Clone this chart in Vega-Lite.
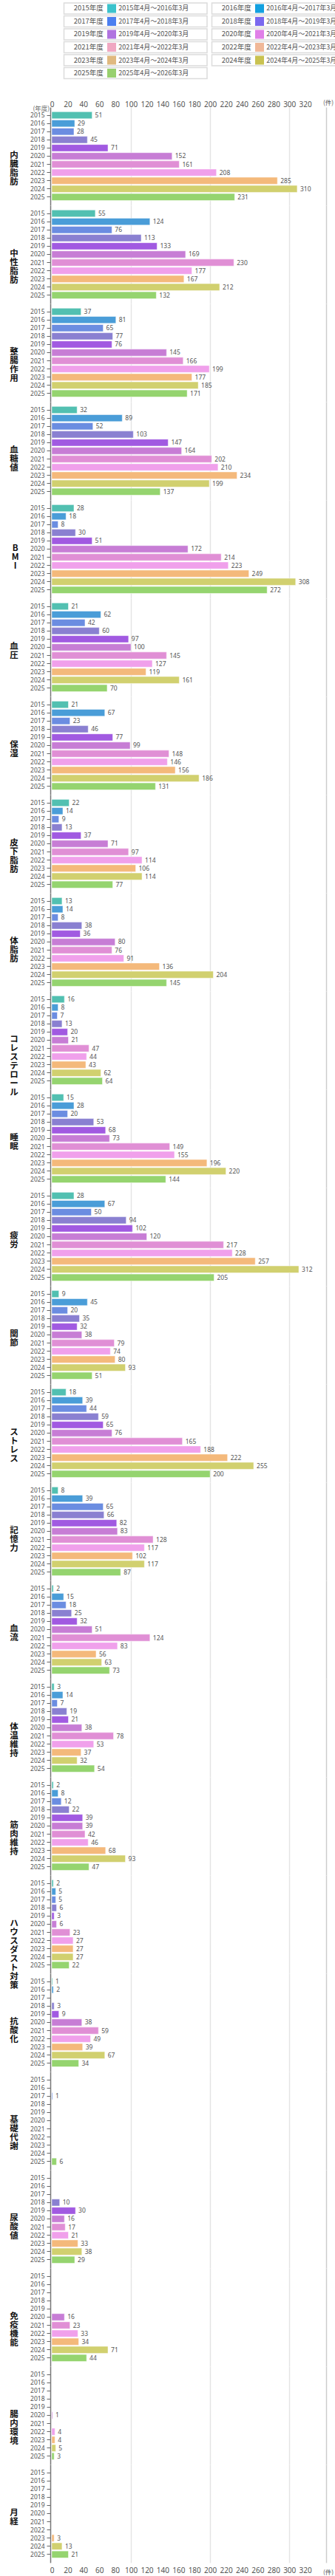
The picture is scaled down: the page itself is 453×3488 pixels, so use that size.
{
  "$schema": "https://vega.github.io/schema/vega-lite/v6.json",
  "background": "white",
  "padding": {"left": 13, "top": 3, "right": 0, "bottom": 0},
  "datasets": {
    "legend": [
      {"year": 2015, "short": "2015年度", "long": "2015年4月～2016年3月"},
      {"year": 2016, "short": "2016年度", "long": "2016年4月～2017年3月"},
      {"year": 2017, "short": "2017年度", "long": "2017年4月～2018年3月"},
      {"year": 2018, "short": "2018年度", "long": "2018年4月～2019年3月"},
      {"year": 2019, "short": "2019年度", "long": "2019年4月～2020年3月"},
      {"year": 2020, "short": "2020年度", "long": "2020年4月～2021年3月"},
      {"year": 2021, "short": "2021年度", "long": "2021年4月～2022年3月"},
      {"year": 2022, "short": "2022年度", "long": "2022年4月～2023年3月"},
      {"year": 2023, "short": "2023年度", "long": "2023年4月～2024年3月"},
      {"year": 2024, "short": "2024年度", "long": "2024年4月～2025年3月"},
      {"year": 2025, "short": "2025年度", "long": "2025年4月～2026年3月"}
    ],
    "counts": [
      {"c": "内臓脂肪", "y": 2015, "n": 51}, {"c": "内臓脂肪", "y": 2016, "n": 29}, {"c": "内臓脂肪", "y": 2017, "n": 28}, {"c": "内臓脂肪", "y": 2018, "n": 45}, {"c": "内臓脂肪", "y": 2019, "n": 71}, {"c": "内臓脂肪", "y": 2020, "n": 152}, {"c": "内臓脂肪", "y": 2021, "n": 161}, {"c": "内臓脂肪", "y": 2022, "n": 208}, {"c": "内臓脂肪", "y": 2023, "n": 285}, {"c": "内臓脂肪", "y": 2024, "n": 310}, {"c": "内臓脂肪", "y": 2025, "n": 231},
      {"c": "中性脂肪", "y": 2015, "n": 55}, {"c": "中性脂肪", "y": 2016, "n": 124}, {"c": "中性脂肪", "y": 2017, "n": 76}, {"c": "中性脂肪", "y": 2018, "n": 113}, {"c": "中性脂肪", "y": 2019, "n": 133}, {"c": "中性脂肪", "y": 2020, "n": 169}, {"c": "中性脂肪", "y": 2021, "n": 230}, {"c": "中性脂肪", "y": 2022, "n": 177}, {"c": "中性脂肪", "y": 2023, "n": 167}, {"c": "中性脂肪", "y": 2024, "n": 212}, {"c": "中性脂肪", "y": 2025, "n": 132},
      {"c": "整腸作用", "y": 2015, "n": 37}, {"c": "整腸作用", "y": 2016, "n": 81}, {"c": "整腸作用", "y": 2017, "n": 65}, {"c": "整腸作用", "y": 2018, "n": 77}, {"c": "整腸作用", "y": 2019, "n": 76}, {"c": "整腸作用", "y": 2020, "n": 145}, {"c": "整腸作用", "y": 2021, "n": 166}, {"c": "整腸作用", "y": 2022, "n": 199}, {"c": "整腸作用", "y": 2023, "n": 177}, {"c": "整腸作用", "y": 2024, "n": 185}, {"c": "整腸作用", "y": 2025, "n": 171},
      {"c": "血糖値", "y": 2015, "n": 32}, {"c": "血糖値", "y": 2016, "n": 89}, {"c": "血糖値", "y": 2017, "n": 52}, {"c": "血糖値", "y": 2018, "n": 103}, {"c": "血糖値", "y": 2019, "n": 147}, {"c": "血糖値", "y": 2020, "n": 164}, {"c": "血糖値", "y": 2021, "n": 202}, {"c": "血糖値", "y": 2022, "n": 210}, {"c": "血糖値", "y": 2023, "n": 234}, {"c": "血糖値", "y": 2024, "n": 199}, {"c": "血糖値", "y": 2025, "n": 137},
      {"c": "BMI", "y": 2015, "n": 28}, {"c": "BMI", "y": 2016, "n": 18}, {"c": "BMI", "y": 2017, "n": 8}, {"c": "BMI", "y": 2018, "n": 30}, {"c": "BMI", "y": 2019, "n": 51}, {"c": "BMI", "y": 2020, "n": 172}, {"c": "BMI", "y": 2021, "n": 214}, {"c": "BMI", "y": 2022, "n": 223}, {"c": "BMI", "y": 2023, "n": 249}, {"c": "BMI", "y": 2024, "n": 308}, {"c": "BMI", "y": 2025, "n": 272},
      {"c": "血圧", "y": 2015, "n": 21}, {"c": "血圧", "y": 2016, "n": 62}, {"c": "血圧", "y": 2017, "n": 42}, {"c": "血圧", "y": 2018, "n": 60}, {"c": "血圧", "y": 2019, "n": 97}, {"c": "血圧", "y": 2020, "n": 100}, {"c": "血圧", "y": 2021, "n": 145}, {"c": "血圧", "y": 2022, "n": 127}, {"c": "血圧", "y": 2023, "n": 119}, {"c": "血圧", "y": 2024, "n": 161}, {"c": "血圧", "y": 2025, "n": 70},
      {"c": "保湿", "y": 2015, "n": 21}, {"c": "保湿", "y": 2016, "n": 67}, {"c": "保湿", "y": 2017, "n": 23}, {"c": "保湿", "y": 2018, "n": 46}, {"c": "保湿", "y": 2019, "n": 77}, {"c": "保湿", "y": 2020, "n": 99}, {"c": "保湿", "y": 2021, "n": 148}, {"c": "保湿", "y": 2022, "n": 146}, {"c": "保湿", "y": 2023, "n": 156}, {"c": "保湿", "y": 2024, "n": 186}, {"c": "保湿", "y": 2025, "n": 131},
      {"c": "皮下脂肪", "y": 2015, "n": 22}, {"c": "皮下脂肪", "y": 2016, "n": 14}, {"c": "皮下脂肪", "y": 2017, "n": 9}, {"c": "皮下脂肪", "y": 2018, "n": 13}, {"c": "皮下脂肪", "y": 2019, "n": 37}, {"c": "皮下脂肪", "y": 2020, "n": 71}, {"c": "皮下脂肪", "y": 2021, "n": 97}, {"c": "皮下脂肪", "y": 2022, "n": 114}, {"c": "皮下脂肪", "y": 2023, "n": 106}, {"c": "皮下脂肪", "y": 2024, "n": 114}, {"c": "皮下脂肪", "y": 2025, "n": 77},
      {"c": "体脂肪", "y": 2015, "n": 13}, {"c": "体脂肪", "y": 2016, "n": 14}, {"c": "体脂肪", "y": 2017, "n": 8}, {"c": "体脂肪", "y": 2018, "n": 38}, {"c": "体脂肪", "y": 2019, "n": 36}, {"c": "体脂肪", "y": 2020, "n": 80}, {"c": "体脂肪", "y": 2021, "n": 76}, {"c": "体脂肪", "y": 2022, "n": 91}, {"c": "体脂肪", "y": 2023, "n": 136}, {"c": "体脂肪", "y": 2024, "n": 204}, {"c": "体脂肪", "y": 2025, "n": 145},
      {"c": "コレステロール", "y": 2015, "n": 16}, {"c": "コレステロール", "y": 2016, "n": 8}, {"c": "コレステロール", "y": 2017, "n": 7}, {"c": "コレステロール", "y": 2018, "n": 13}, {"c": "コレステロール", "y": 2019, "n": 20}, {"c": "コレステロール", "y": 2020, "n": 21}, {"c": "コレステロール", "y": 2021, "n": 47}, {"c": "コレステロール", "y": 2022, "n": 44}, {"c": "コレステロール", "y": 2023, "n": 43}, {"c": "コレステロール", "y": 2024, "n": 62}, {"c": "コレステロール", "y": 2025, "n": 64},
      {"c": "睡眠", "y": 2015, "n": 15}, {"c": "睡眠", "y": 2016, "n": 28}, {"c": "睡眠", "y": 2017, "n": 20}, {"c": "睡眠", "y": 2018, "n": 53}, {"c": "睡眠", "y": 2019, "n": 68}, {"c": "睡眠", "y": 2020, "n": 73}, {"c": "睡眠", "y": 2021, "n": 149}, {"c": "睡眠", "y": 2022, "n": 155}, {"c": "睡眠", "y": 2023, "n": 196}, {"c": "睡眠", "y": 2024, "n": 220}, {"c": "睡眠", "y": 2025, "n": 144},
      {"c": "疲労", "y": 2015, "n": 28}, {"c": "疲労", "y": 2016, "n": 67}, {"c": "疲労", "y": 2017, "n": 50}, {"c": "疲労", "y": 2018, "n": 94}, {"c": "疲労", "y": 2019, "n": 102}, {"c": "疲労", "y": 2020, "n": 120}, {"c": "疲労", "y": 2021, "n": 217}, {"c": "疲労", "y": 2022, "n": 228}, {"c": "疲労", "y": 2023, "n": 257}, {"c": "疲労", "y": 2024, "n": 312}, {"c": "疲労", "y": 2025, "n": 205},
      {"c": "関節", "y": 2015, "n": 9}, {"c": "関節", "y": 2016, "n": 45}, {"c": "関節", "y": 2017, "n": 20}, {"c": "関節", "y": 2018, "n": 35}, {"c": "関節", "y": 2019, "n": 32}, {"c": "関節", "y": 2020, "n": 38}, {"c": "関節", "y": 2021, "n": 79}, {"c": "関節", "y": 2022, "n": 74}, {"c": "関節", "y": 2023, "n": 80}, {"c": "関節", "y": 2024, "n": 93}, {"c": "関節", "y": 2025, "n": 51},
      {"c": "ストレス", "y": 2015, "n": 18}, {"c": "ストレス", "y": 2016, "n": 39}, {"c": "ストレス", "y": 2017, "n": 44}, {"c": "ストレス", "y": 2018, "n": 59}, {"c": "ストレス", "y": 2019, "n": 65}, {"c": "ストレス", "y": 2020, "n": 76}, {"c": "ストレス", "y": 2021, "n": 165}, {"c": "ストレス", "y": 2022, "n": 188}, {"c": "ストレス", "y": 2023, "n": 222}, {"c": "ストレス", "y": 2024, "n": 255}, {"c": "ストレス", "y": 2025, "n": 200},
      {"c": "記憶力", "y": 2015, "n": 8}, {"c": "記憶力", "y": 2016, "n": 39}, {"c": "記憶力", "y": 2017, "n": 65}, {"c": "記憶力", "y": 2018, "n": 66}, {"c": "記憶力", "y": 2019, "n": 82}, {"c": "記憶力", "y": 2020, "n": 83}, {"c": "記憶力", "y": 2021, "n": 128}, {"c": "記憶力", "y": 2022, "n": 117}, {"c": "記憶力", "y": 2023, "n": 102}, {"c": "記憶力", "y": 2024, "n": 117}, {"c": "記憶力", "y": 2025, "n": 87},
      {"c": "血流", "y": 2015, "n": 2}, {"c": "血流", "y": 2016, "n": 15}, {"c": "血流", "y": 2017, "n": 18}, {"c": "血流", "y": 2018, "n": 25}, {"c": "血流", "y": 2019, "n": 32}, {"c": "血流", "y": 2020, "n": 51}, {"c": "血流", "y": 2021, "n": 124}, {"c": "血流", "y": 2022, "n": 83}, {"c": "血流", "y": 2023, "n": 56}, {"c": "血流", "y": 2024, "n": 63}, {"c": "血流", "y": 2025, "n": 73},
      {"c": "体温維持", "y": 2015, "n": 3}, {"c": "体温維持", "y": 2016, "n": 14}, {"c": "体温維持", "y": 2017, "n": 7}, {"c": "体温維持", "y": 2018, "n": 19}, {"c": "体温維持", "y": 2019, "n": 21}, {"c": "体温維持", "y": 2020, "n": 38}, {"c": "体温維持", "y": 2021, "n": 78}, {"c": "体温維持", "y": 2022, "n": 53}, {"c": "体温維持", "y": 2023, "n": 37}, {"c": "体温維持", "y": 2024, "n": 32}, {"c": "体温維持", "y": 2025, "n": 54},
      {"c": "筋肉維持", "y": 2015, "n": 2}, {"c": "筋肉維持", "y": 2016, "n": 8}, {"c": "筋肉維持", "y": 2017, "n": 12}, {"c": "筋肉維持", "y": 2018, "n": 22}, {"c": "筋肉維持", "y": 2019, "n": 39}, {"c": "筋肉維持", "y": 2020, "n": 39}, {"c": "筋肉維持", "y": 2021, "n": 42}, {"c": "筋肉維持", "y": 2022, "n": 46}, {"c": "筋肉維持", "y": 2023, "n": 68}, {"c": "筋肉維持", "y": 2024, "n": 93}, {"c": "筋肉維持", "y": 2025, "n": 47},
      {"c": "ハウスダスト対策", "y": 2015, "n": 2}, {"c": "ハウスダスト対策", "y": 2016, "n": 5}, {"c": "ハウスダスト対策", "y": 2017, "n": 5}, {"c": "ハウスダスト対策", "y": 2018, "n": 6}, {"c": "ハウスダスト対策", "y": 2019, "n": 3}, {"c": "ハウスダスト対策", "y": 2020, "n": 6}, {"c": "ハウスダスト対策", "y": 2021, "n": 23}, {"c": "ハウスダスト対策", "y": 2022, "n": 27}, {"c": "ハウスダスト対策", "y": 2023, "n": 27}, {"c": "ハウスダスト対策", "y": 2024, "n": 27}, {"c": "ハウスダスト対策", "y": 2025, "n": 22},
      {"c": "抗酸化", "y": 2015, "n": 1}, {"c": "抗酸化", "y": 2016, "n": 2}, {"c": "抗酸化", "y": 2018, "n": 3}, {"c": "抗酸化", "y": 2019, "n": 9}, {"c": "抗酸化", "y": 2020, "n": 38}, {"c": "抗酸化", "y": 2021, "n": 59}, {"c": "抗酸化", "y": 2022, "n": 49}, {"c": "抗酸化", "y": 2023, "n": 39}, {"c": "抗酸化", "y": 2024, "n": 67}, {"c": "抗酸化", "y": 2025, "n": 34},
      {"c": "基礎代謝", "y": 2017, "n": 1}, {"c": "基礎代謝", "y": 2025, "n": 6},
      {"c": "尿酸値", "y": 2018, "n": 10}, {"c": "尿酸値", "y": 2019, "n": 30}, {"c": "尿酸値", "y": 2020, "n": 16}, {"c": "尿酸値", "y": 2021, "n": 17}, {"c": "尿酸値", "y": 2022, "n": 21}, {"c": "尿酸値", "y": 2023, "n": 33}, {"c": "尿酸値", "y": 2024, "n": 38}, {"c": "尿酸値", "y": 2025, "n": 29},
      {"c": "免疫機能", "y": 2020, "n": 16}, {"c": "免疫機能", "y": 2021, "n": 23}, {"c": "免疫機能", "y": 2022, "n": 33}, {"c": "免疫機能", "y": 2023, "n": 34}, {"c": "免疫機能", "y": 2024, "n": 71}, {"c": "免疫機能", "y": 2025, "n": 44},
      {"c": "腸内環境", "y": 2020, "n": 1}, {"c": "腸内環境", "y": 2022, "n": 4}, {"c": "腸内環境", "y": 2023, "n": 4}, {"c": "腸内環境", "y": 2024, "n": 5}, {"c": "腸内環境", "y": 2025, "n": 3},
      {"c": "月経", "y": 2023, "n": 3}, {"c": "月経", "y": 2024, "n": 13}, {"c": "月経", "y": 2025, "n": 21}
    ]
  },
  "spacing": 26,
  "resolve": {"scale": {"color": "independent"}},
  "vconcat": [
    {
      "width": 410,
      "height": 102.5,
      "data": {"name": "legend"},
      "transform": [
        {"calculate": "(datum.year - 2015) % 2", "as": "col"},
        {"calculate": "floor((datum.year - 2015) / 2)", "as": "row"}
      ],
      "encoding": {
        "x": {"field": "col", "type": "ordinal", "axis": null, "scale": {"paddingInner": 0.0325, "paddingOuter": 0.04125, "align": 1}},
        "y": {"field": "row", "type": "ordinal", "axis": null, "scale": {"paddingInner": 0.143, "paddingOuter": 0}}
      },
      "layer": [
        {"mark": {"type": "rect", "fill": "white", "stroke": "#dcdcdc", "strokeWidth": 1.5}},
        {
          "mark": {"type": "text", "dx": -63.5, "fontSize": 9.5, "color": "#555", "font": "Noto Sans CJK JP"},
          "encoding": {"text": {"field": "short"}}
        },
        {
          "mark": {"type": "point", "shape": "square", "size": 144, "filled": true, "opacity": 1},
          "encoding": {
            "xOffset": {"value": 64.5},
            "color": {
              "field": "year", "type": "nominal", "legend": null,
              "scale": {"range": ["#3cc3cc", "#12a0e0", "#4b7ff0", "#7a68ef", "#b073e0", "#e07fe8", "#f0a8c2", "#f0b898", "#e0b97f", "#c9c251", "#98d06e"]}
            }
          }
        },
        {
          "mark": {"type": "text", "dx": -23, "align": "left", "fontSize": 9, "color": "#555", "font": "Noto Sans CJK JP"},
          "encoding": {"text": {"field": "long"}}
        }
      ]
    },
    {
      "data": {"name": "counts"},
      "spacing": 0,
      "facet": {
        "row": {
          "field": "c", "type": "nominal",
          "sort": ["内臓脂肪", "中性脂肪", "整腸作用", "血糖値", "BMI", "血圧", "保湿", "皮下脂肪", "体脂肪", "コレステロール", "睡眠", "疲労", "関節", "ストレス", "記憶力", "血流", "体温維持", "筋肉維持", "ハウスダスト対策", "抗酸化", "基礎代謝", "尿酸値", "免疫機能", "腸内環境", "月経"],
          "header": {
            "title": null,
            "labelAngle": 0,
            "labelOrient": "left",
            "labelAlign": "center",
            "labelBaseline": "middle",
            "labelExpr": "length(datum.label) == 2 ? [slice(datum.label, 0, 1), '', slice(datum.label, 1)] : split(datum.label, '')",
            "labelLineHeight": 12,
            "labelFontSize": 11.5,
            "labelFontWeight": "bold",
            "labelColor": "#111",
            "labelFont": "Noto Sans CJK JP",
            "labelPadding": 10
          }
        }
      },
      "spec": {
        "width": 371,
        "height": 132.9,
        "encoding": {
          "y": {
            "field": "y", "type": "ordinal",
            "scale": {"paddingInner": 0.15, "paddingOuter": 0.575},
            "axis": {
              "title": null,
              "domainColor": "#777",
              "domainWidth": 1.5,
              "tickColor": "#666",
              "tickSize": 5,
              "labelColor": "#555",
              "labelFontSize": 8.5,
              "labelFont": "Noto Sans",
              "labelPadding": 3
            }
          }
        },
        "layer": [
          {
            "mark": {"type": "bar", "stroke": "white", "strokeWidth": 1, "strokeOpacity": 0.5},
            "encoding": {
              "x": {
                "field": "n", "type": "quantitative",
                "scale": {"domain": [0, 346.5], "nice": false},
                "axis": {
                  "orient": "top",
                  "values": [0, 20, 40, 60, 80, 100, 120, 140, 160, 180, 200, 220, 240, 260, 280, 300, 320, 346.5],
                  "labelExpr": "datum.value > 330 ? '' : datum.label",
                  "labelFlush": false,
                  "labelOverlap": false,
                  "labelFontSize": 10,
                  "labelColor": "#555",
                  "labelFont": "Noto Sans",
                  "labelPadding": -1,
                  "ticks": false,
                  "tickSize": 0,
                  "domain": false,
                  "grid": true,
                  "gridWidth": 1.5,
                  "gridColor": {
                    "condition": [
                      {"test": "datum.value > 340", "value": "#cccccc"},
                      {"test": "datum.value > 0 && datum.value % 100 == 0", "value": "#e4e4e4"}
                    ],
                    "value": "rgba(0,0,0,0)"
                  },
                  "title": "(件)",
                  "titleFontSize": 8.5,
                  "titleFontWeight": "normal",
                  "titleColor": "#555",
                  "titleFont": "Noto Sans CJK JP",
                  "titleAlign": "center",
                  "titleBaseline": "middle",
                  "titleX": 373.5,
                  "titleY": -7
                }
              },
              "color": {
                "field": "y", "type": "ordinal", "legend": null,
                "scale": {"range": ["#52c0b1", "#4a9dd8", "#6b8de1", "#8a80d1", "#a15ae1", "#c77dd5", "#e08fd5", "#f0a0eb", "#f4b97b", "#d1d06f", "#95d46f"]}
              }
            }
          },
          {
            "mark": {"type": "text", "align": "left", "baseline": "middle", "dx": 4, "fontSize": 8.5, "color": "#555", "font": "Noto Sans"},
            "encoding": {
              "x": {
                "field": "n", "type": "quantitative",
                "axis": {
                  "orient": "bottom",
                  "values": [0, 20, 40, 60, 80, 100, 120, 140, 160, 180, 200, 220, 240, 260, 280, 300, 320],
                  "labelFlush": false,
                  "labelOverlap": false,
                  "labelFontSize": 10,
                  "labelColor": "#555",
                  "labelFont": "Noto Sans",
                  "labelPadding": 5,
                  "ticks": false,
                  "tickSize": 0,
                  "domain": false,
                  "grid": false,
                  "title": "(件)",
                  "titleFontSize": 8.5,
                  "titleFontWeight": "normal",
                  "titleColor": "#555",
                  "titleFont": "Noto Sans CJK JP",
                  "titleAlign": "center",
                  "titleBaseline": "middle",
                  "titleX": 373.5,
                  "titleY": 12
                }
              },
              "text": {"field": "n", "type": "quantitative"}
            }
          },
          {
            "mark": {"type": "point", "opacity": 0},
            "encoding": {
              "x": {
                "field": "n", "type": "quantitative",
                "axis": {
                  "orient": "top",
                  "labels": false,
                  "ticks": false,
                  "tickSize": 0,
                  "domain": false,
                  "grid": false,
                  "title": "(年度)",
                  "titleFontSize": 8.5,
                  "titleFontWeight": "normal",
                  "titleColor": "#666",
                  "titleFont": "Noto Sans CJK JP",
                  "titleAlign": "left",
                  "titleBaseline": "middle",
                  "titleX": -26,
                  "titleY": 1
                }
              }
            }
          }
        ],
        "resolve": {"axis": {"x": "independent"}}
      }
    }
  ],
  "config": {"view": {"stroke": null}}
}
